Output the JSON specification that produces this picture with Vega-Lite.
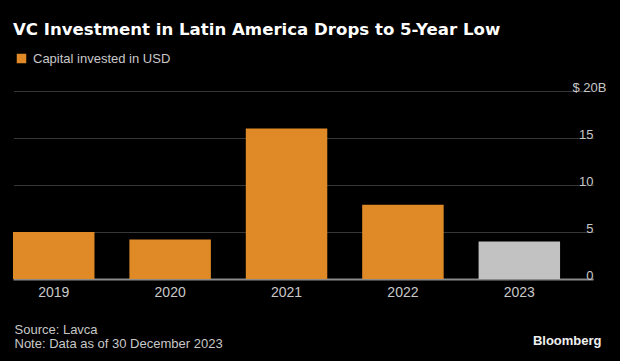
{
  "$schema": "https://vega.github.io/schema/vega-lite/v6.json",
  "width": 580,
  "height": 188,
  "autosize": "none",
  "padding": {"left": 13, "top": 91, "right": 27, "bottom": 82},
  "background": "#000000",
  "config": {"view": {"stroke": null}},
  "title": {
    "text": "VC Investment in Latin America Drops to 5-Year Low",
    "anchor": "start",
    "frame": "group",
    "font": "DejaVu Sans",
    "fontSize": 16.6,
    "fontWeight": "bold",
    "color": "#ffffff",
    "baseline": "alphabetic",
    "offset": 0,
    "dy": 0
  },
  "data": {
    "values": [
      {"year": "2019", "value": 5.0, "type": "Capital invested in USD"},
      {"year": "2020", "value": 4.2, "type": "Capital invested in USD"},
      {"year": "2021", "value": 16.0, "type": "Capital invested in USD"},
      {"year": "2022", "value": 7.9, "type": "Capital invested in USD"},
      {"year": "2023", "value": 4.0, "type": "2023 (partial)"}
    ]
  },
  "mark": {"type": "bar"},
  "encoding": {
    "x": {
      "field": "year",
      "type": "ordinal",
      "scale": {"paddingInner": 0.3, "paddingOuter": 0.1415, "align": 0},
      "axis": {
        "labelAngle": 0,
        "domain": true,
        "domainColor": "#8a8a8a",
        "domainWidth": 2,
        "ticks": false,
        "labelColor": "#c8c8c8",
        "labelFont": "Liberation Sans",
        "labelFontSize": 14,
        "labelPadding": 6,
        "title": ["Source: Lavca", "Note: Data as of 30 December 2023"],
        "titleAnchor": "start",
        "titleAlign": "left",
        "titleBaseline": "alphabetic",
        "titleX": 1,
        "titleY": 54,
        "titleLineHeight": 14,
        "titleFont": "Liberation Sans",
        "titleFontSize": 13,
        "titleFontWeight": "normal",
        "titleColor": "#c8c8c8"
      }
    },
    "y": {
      "field": "value",
      "type": "quantitative",
      "scale": {"domain": [0, 20]},
      "axis": {
        "orient": "right",
        "values": [0, 5, 10, 15, 20],
        "domain": false,
        "ticks": false,
        "grid": true,
        "gridDash": [1, 1],
        "gridColor": "#6e6e6e",
        "gridWidth": 1,
        "labelExpr": "datum.value == 20 ? '$ 20B' : datum.label",
        "labelAlign": "right",
        "labelBaseline": "alphabetic",
        "labelDy": -8.5,
        "labelPadding": {"condition": {"test": "datum.value == 20", "value": 13}, "value": 0},
        "labelColor": "#c8c8c8",
        "labelFont": "Liberation Sans",
        "labelFontSize": 13,
        "title": "Bloomberg",
        "titleAngle": 0,
        "titleAlign": "right",
        "titleBaseline": "alphabetic",
        "titleX": 8,
        "titleY": 253,
        "titleFont": "Liberation Sans",
        "titleFontSize": 13,
        "titleFontWeight": "bold",
        "titleColor": "#f0f0f0"
      }
    },
    "color": {
      "field": "type",
      "type": "nominal",
      "scale": {"domain": ["Capital invested in USD", "2023 (partial)"], "range": ["#df8a26", "#c2c2c2"]},
      "legend": {
        "values": ["Capital invested in USD"],
        "orient": "none",
        "legendX": 2,
        "legendY": -39,
        "title": null,
        "padding": 0,
        "symbolType": "square",
        "symbolSize": 90,
        "symbolStrokeWidth": 0,
        "labelOffset": 5,
        "labelColor": "#c8c8c8",
        "labelFont": "Liberation Sans",
        "labelFontSize": 13
      }
    }
  }
}
